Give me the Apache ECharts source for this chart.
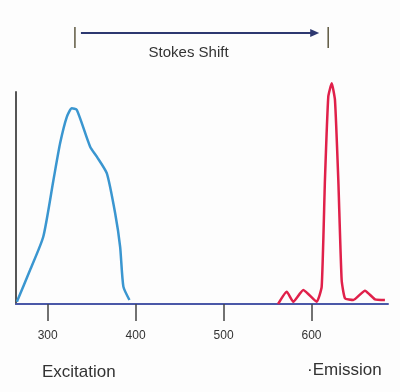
<!DOCTYPE html>
<html><head><meta charset="utf-8">
<script src="https://cdn.jsdelivr.net/npm/echarts@6/dist/echarts.min.js"></script>
<style>html,body{margin:0;padding:0;background:#fdfdfd}#c{width:400px;height:392px}</style>
</head><body><div id="c"></div>
<script>
// Wavelength (nm) and relative intensity
const excitationX = [265, 280, 295, 306.6, 314.2, 321.8, 327.5, 333.2, 348.3, 355.9, 367.3, 376.7, 382.4, 386.1, 393];
const excitationY = [1.1, 16, 31.7, 58.5, 75.9, 88.3, 92.3, 91.5, 74.2, 69.5, 61.6, 42.9, 27, 8.2, 1.9];
const emissionX = [562, 571.8, 579.3, 590.7, 605.9, 611.6, 615.3, 619.1, 623, 626.7, 630.5, 634.3, 638.1, 647.5, 660.8, 672.2, 683.5];
const emissionY = [0, 5.8, 1.1, 6.6, 1.1, 8.2, 58.5, 97.8, 104.1, 96.2, 58.5, 11.3, 2.7, 1.9, 6.3, 2.2, 1.9];
const tickValues = [300, 400, 500, 600];
const stokesMarks = [331, 619];

const chart = echarts.init(document.getElementById('c'));
const pair = (xs, ys) => xs.map((x, i) => [x, ys[i]]);
chart.setOption({
  backgroundColor: '#fdfdfd',
  animation: false,
  grid: {left: 16, right: 12, top: 92, bottom: 88},
  xAxis: {
    type: 'value', min: 264, max: 687,
    axisLine: {show: true, lineStyle: {color: '#4a58a8', width: 2}},
    axisTick: {show: true, length: 17, lineStyle: {color: '#444', width: 1.5}, customValues: tickValues},
    axisLabel: {show: true, margin: 26, fontSize: 12, color: '#333', fontFamily: 'Liberation Sans', customValues: tickValues},
    splitLine: {show: false}
  },
  yAxis: {
    type: 'value', min: 0, max: 100,
    axisLine: {show: true, lineStyle: {color: '#555', width: 2}},
    axisTick: {show: false}, axisLabel: {show: false}, splitLine: {show: false}
  },
  series: [
    {type: 'line', data: pair(excitationX, excitationY), smooth: 0.2, showSymbol: false, clip: false,
     lineStyle: {color: '#3a96d0', width: 2.5}},
    {type: 'line', data: pair(emissionX, emissionY), smooth: 0.15, showSymbol: false, clip: false,
     lineStyle: {color: '#e0204a', width: 2.5}}
  ]
});
const px = v => chart.convertToPixel({gridIndex: 0}, [v, 0])[0];
const a = px(stokesMarks[0]), b = px(stokesMarks[1]);
chart.setOption({
  graphic: [
    {type: 'line', shape: {x1: a, y1: 27, x2: a, y2: 48}, style: {stroke: '#5e5840', lineWidth: 1.5}},
    {type: 'line', shape: {x1: b, y1: 27, x2: b, y2: 48}, style: {stroke: '#5e5840', lineWidth: 1.5}},
    {type: 'line', shape: {x1: a + 6, y1: 33, x2: b - 14, y2: 33}, style: {stroke: '#2d3870', lineWidth: 2}},
    {type: 'polygon', shape: {points: [[b - 18, 29], [b - 9, 33], [b - 18, 37]]}, style: {fill: '#2d3870'}},
    {type: 'text', x: (a + b) / 2 - 13, y: 53, style: {text: 'Stokes Shift', fill: '#333', font: '15px "Liberation Sans"', align: 'center', verticalAlign: 'middle'}},
    {type: 'text', x: 42, y: 372, style: {text: 'Excitation', fill: '#333', font: '17px "Liberation Sans"', align: 'left', verticalAlign: 'middle'}},
    {type: 'text', x: 307, y: 370, style: {text: '·Emission', fill: '#333', font: '17px "Liberation Sans"', align: 'left', verticalAlign: 'middle'}}
  ]
});
</script></body></html>
